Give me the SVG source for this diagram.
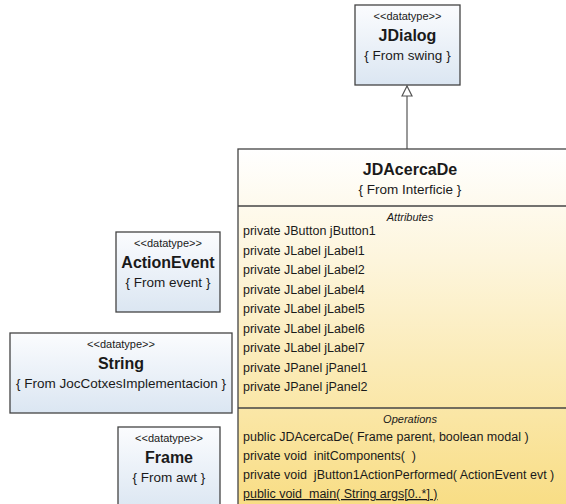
<svg xmlns="http://www.w3.org/2000/svg" width="566" height="504" viewBox="0 0 566 504">
  <style>
    text { font-family: "Liberation Sans", Arial, sans-serif; fill: #1a1a1a; white-space: pre; }
    .stereo { font-size: 11px; text-anchor: middle; }
    .name { font-size: 16px; font-weight: bold; text-anchor: middle; }
    .from { font-size: 13.5px; text-anchor: middle; }
    .comp { font-size: 11px; font-style: italic; text-anchor: middle; }
    .member { font-size: 12.5px; }
    .dtbox { fill: url(#dtFill); stroke: #444; stroke-width: 1.3; }
    .clsbox { fill: url(#clsFill); stroke: #444; stroke-width: 1.3; }
    .sep { stroke: #444; stroke-width: 1.3; }
    .conn { stroke: #555; stroke-width: 1.2; fill: none; }
  </style>
  <defs>
    <linearGradient id="dtFill" x1="0" y1="0" x2="0" y2="1">
      <stop offset="0" stop-color="#fbfcfe"/>
      <stop offset="1" stop-color="#dbe6f2"/>
    </linearGradient>
    <linearGradient id="clsFill" x1="0" y1="0" x2="0" y2="1">
      <stop offset="0" stop-color="#ffffff"/>
      <stop offset="0.3" stop-color="#fdf5dc"/>
      <stop offset="1" stop-color="#f8dc80"/>
    </linearGradient>
    <marker id="inherit" viewBox="0 0 12 12" refX="11" refY="6" markerWidth="12" markerHeight="12" markerUnits="userSpaceOnUse" orient="auto">
      <path d="M1,1 L11,6 L1,11 Z" fill="#fff" stroke="#555" stroke-width="1.2"/>
    </marker>
  </defs>

  <!-- generalization: JDAcercaDe extends JDialog -->
  <g id="connectors">
    <line class="conn" x1="407" y1="149" x2="407" y2="86" marker-end="url(#inherit)"/>
  </g>

  <g id="JDialog">
    <rect class="dtbox" x="355" y="5" width="105" height="80"/>
    <text class="stereo" x="407.5" y="20">&lt;&lt;datatype&gt;&gt;</text>
    <text class="name" x="407.5" y="41">JDialog</text>
    <text class="from" x="407.5" y="60">{ From swing }</text>
  </g>

  <g id="ActionEvent">
    <rect class="dtbox" x="116" y="232" width="104" height="80"/>
    <text class="stereo" x="168" y="247">&lt;&lt;datatype&gt;&gt;</text>
    <text class="name" x="168" y="268">ActionEvent</text>
    <text class="from" x="168" y="287">{ From event }</text>
  </g>

  <g id="String">
    <rect class="dtbox" x="10" y="333" width="222" height="80"/>
    <text class="stereo" x="121" y="348">&lt;&lt;datatype&gt;&gt;</text>
    <text class="name" x="121" y="369">String</text>
    <text class="from" x="121" y="388">{ From JocCotxesImplementacion }</text>
  </g>

  <g id="Frame">
    <rect class="dtbox" x="118" y="427" width="102" height="84"/>
    <text class="stereo" x="169" y="442">&lt;&lt;datatype&gt;&gt;</text>
    <text class="name" x="169" y="463">Frame</text>
    <text class="from" x="169" y="482">{ From awt }</text>
  </g>

  <g id="JDAcercaDe">
    <rect class="clsbox" x="238" y="149" width="344" height="370"/>
    <text class="name" x="410" y="175">JDAcercaDe</text>
    <text class="from" x="410" y="194">{ From Interficie }</text>
    <line class="sep" x1="238" y1="206" x2="582" y2="206"/>
    <text class="comp" x="410" y="221">Attributes</text>
    <text class="member" x="243" y="235">private JButton jButton1</text>
    <text class="member" x="243" y="254.5">private JLabel jLabel1</text>
    <text class="member" x="243" y="274">private JLabel jLabel2</text>
    <text class="member" x="243" y="293.5">private JLabel jLabel4</text>
    <text class="member" x="243" y="313">private JLabel jLabel5</text>
    <text class="member" x="243" y="332.5">private JLabel jLabel6</text>
    <text class="member" x="243" y="352">private JLabel jLabel7</text>
    <text class="member" x="243" y="371.5">private JPanel jPanel1</text>
    <text class="member" x="243" y="391">private JPanel jPanel2</text>
    <line class="sep" x1="238" y1="408" x2="582" y2="408"/>
    <text class="comp" x="410" y="423">Operations</text>
    <text class="member" x="243" y="441">public JDAcercaDe( Frame parent, boolean modal )</text>
    <text class="member" x="243" y="460">private void  initComponents(  )</text>
    <text class="member" x="243" y="479">private void  jButton1ActionPerformed( ActionEvent evt )</text>
    <text class="member" x="243" y="498" text-decoration="underline">public void  main( String args[0..*] )</text>
  </g>
</svg>
